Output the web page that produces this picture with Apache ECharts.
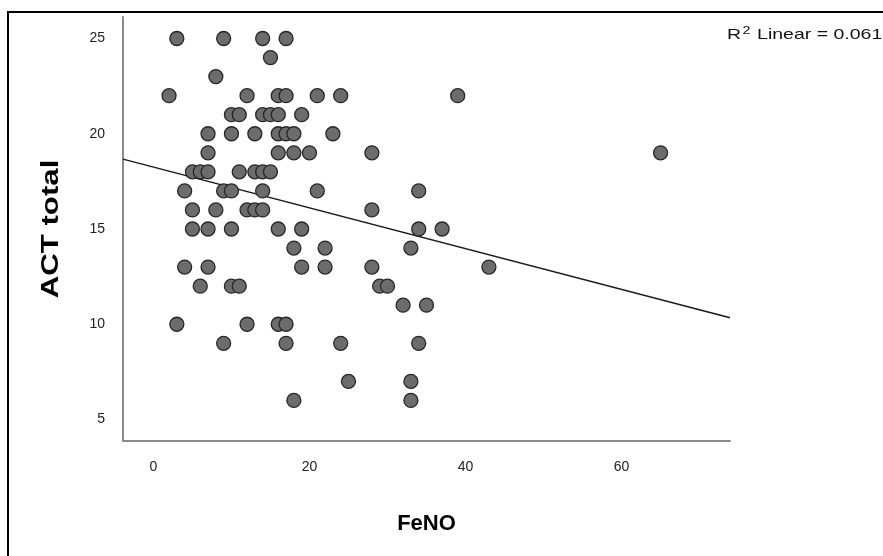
<!DOCTYPE html>
<html>
<head>
<meta charset="utf-8">
<script src="https://cdn.jsdelivr.net/npm/echarts@6/dist/echarts.min.js"></script>
<style>
html,body{margin:0;padding:0;background:#fff;}
#c{width:883px;height:556px;}
</style>
</head>
<body>
<div id="c"></div>
<script>
// FeNO (x) and ACT total (y) values
const feno = [
  3, 9, 14, 17,
  15,
  8,
  2, 12, 16, 17, 21, 24, 39,
  10, 11, 14, 15, 16, 19,
  7, 10, 13, 16, 17, 18, 23,
  7, 16, 18, 20, 28, 65,
  5, 6, 7, 11, 13, 14, 15,
  4, 9, 10, 14, 21, 34,
  5, 8, 12, 13, 14, 28,
  5, 7, 10, 16, 19, 34, 37,
  18, 22, 33,
  4, 7, 19, 22, 28, 43,
  6, 10, 11, 29, 30,
  32, 35,
  3, 12, 16, 17,
  9, 17, 24, 34,
  25, 33,
  18, 33
];
const act = [
  25, 25, 25, 25,
  24,
  23,
  22, 22, 22, 22, 22, 22, 22,
  21, 21, 21, 21, 21, 21,
  20, 20, 20, 20, 20, 20, 20,
  19, 19, 19, 19, 19, 19,
  18, 18, 18, 18, 18, 18, 18,
  17, 17, 17, 17, 17, 17,
  16, 16, 16, 16, 16, 16,
  15, 15, 15, 15, 15, 15, 15,
  14, 14, 14,
  13, 13, 13, 13, 13, 13,
  12, 12, 12, 12, 12,
  11, 11,
  10, 10, 10, 10,
  9, 9, 9, 9,
  7, 7,
  6, 6
];
const xTicks = [0, 20, 40, 60];
const yTicks = [5, 10, 15, 20, 25];
const xRange = [-3.9, 73.9];
const yRange = [3.87, 26.13];
// fitted line (as drawn in the reference)
const fitIntercept = 18.25;
const fitSlope = -0.107;
const r2Text = '0.061';
const xTitle = 'FeNO';
const yTitle = 'ACT total';

const points = feno.map((v, i) => [v, act[i]]);
const fitLine = [
  [xRange[0], fitIntercept + fitSlope * xRange[0]],
  [xRange[1], fitIntercept + fitSlope * xRange[1]]
];

const chart = echarts.init(document.getElementById('c'), null, {renderer: 'canvas'});
const font = 'Liberation Sans, Arial, sans-serif';
chart.setOption({
  animation: false,
  backgroundColor: '#fff',
  grid: {left: 123, right: 153, top: 17, bottom: 115, containLabel: false},
  xAxis: {
    type: 'value', min: xRange[0], max: xRange[1],
    name: xTitle, nameLocation: 'middle', nameGap: 72,
    nameTextStyle: {fontFamily: font, fontSize: 22, fontWeight: 'bold', color: '#000'},
    axisLine: {show: true, lineStyle: {color: '#8c8c8c', width: 2}},
    axisTick: {show: false},
    splitLine: {show: false},
    axisLabel: {customValues: xTicks, fontFamily: font, fontSize: 14, color: '#222', margin: 19}
  },
  yAxis: {
    type: 'value', min: yRange[0], max: yRange[1],
    axisLine: {show: true, onZero: false, lineStyle: {color: '#8c8c8c', width: 2}},
    axisTick: {show: false},
    splitLine: {show: false},
    axisLabel: {customValues: yTicks, fontFamily: font, fontSize: 14, color: '#222', margin: 18}
  },
  series: [
    {
      type: 'line', data: fitLine, symbol: 'none', silent: true,
      lineStyle: {color: '#1a1a1a', width: 1.5}, z: 3
    },
    {
      type: 'scatter', data: points, symbolSize: 14, z: 4,
      itemStyle: {color: '#6c6c6c', borderColor: '#262626', borderWidth: 1.3, opacity: 1}
    }
  ],
  graphic: [
    {type: 'rect', shape: {x: 7, y: 11, width: 890, height: 2}, style: {fill: '#000'}},
    {type: 'rect', shape: {x: 7, y: 11, width: 2, height: 560}, style: {fill: '#000'}},
    {
      type: 'text', x: 51, y: 229, rotation: Math.PI / 2, scaleX: 1.3,
      style: {
        text: yTitle, font: 'bold 24px ' + font, fill: '#000',
        textAlign: 'center', textVerticalAlign: 'middle'
      }
    },
    {
      type: 'text', x: 727, y: 26, scaleX: 1.3,
      style: {
        text: '{r|R}{s|2}{r| Linear = ' + r2Text + '}',
        rich: {
          r: {fontFamily: font, fontSize: 15, fill: '#111', lineHeight: 17},
          s: {fontFamily: font, fontSize: 11, fill: '#111', padding: [0, 1, 8, 1], lineHeight: 17}
        }
      }
    }
  ]
});
</script>
</body>
</html>
